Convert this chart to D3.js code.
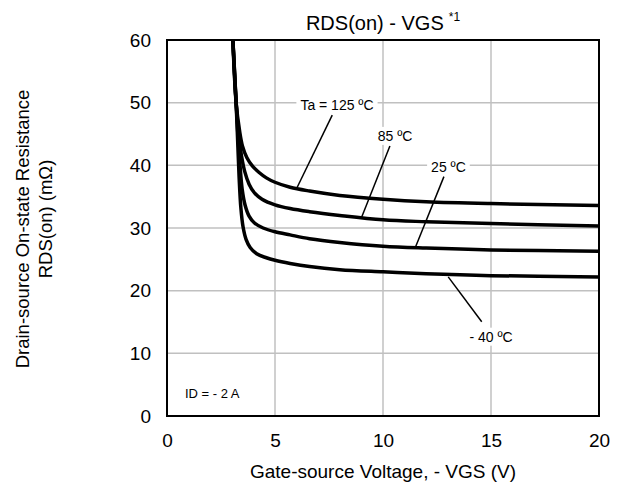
<!DOCTYPE html>
<html>
<head>
<meta charset="utf-8">
<script src="https://cdn.jsdelivr.net/npm/d3@7"></script>
<style>
  body { margin: 0; background: #fff; }
  text { font-family: "Liberation Sans", Arial, sans-serif; fill: #000; }
</style>
</head>
<body>
<svg id="chart"></svg>
<script>
// chart size
var width = 627;
var height = 486;
var margin = {top: 40, right: 28, bottom: 70, left: 167};

// tick values
var xTicks = [0, 5, 10, 15, 20];
var yTicks = [0, 10, 20, 30, 40, 50, 60];

// RDS(on) vs VGS curves, [VGS, mOhm]
var curve125 = [[3.05, 60], [3.2, 50], [3.36, 45.5], [3.5, 43.0], [3.7, 41.2], [3.95, 39.9], [4.25, 38.9], [4.6, 38.0], [5, 37.3], [5.7, 36.5], [6.6, 35.9], [8, 35.2], [10, 34.6], [12, 34.2], [15, 33.9], [20, 33.6]];
var curve85 = [[3.05, 60], [3.2, 50], [3.33, 44.5], [3.45, 41.5], [3.6, 39.0], [3.8, 37.0], [4.05, 35.6], [4.4, 34.6], [5, 33.7], [5.7, 33.1], [6.6, 32.6], [8, 32.0], [10, 31.3], [12, 31.0], [15, 30.7], [20, 30.3]];
var curve25 = [[3.05, 60], [3.2, 50], [3.29, 44.5], [3.38, 40], [3.48, 36.2], [3.62, 33.6], [3.8, 31.9], [4.05, 30.8], [4.45, 30.0], [5, 29.4], [5.7, 28.9], [6.6, 28.3], [8, 27.7], [10, 27.1], [12, 26.8], [15, 26.5], [20, 26.3]];
var curveM40 = [[3.05, 60], [3.2, 50], [3.27, 44], [3.34, 38], [3.42, 33.2], [3.52, 30.2], [3.66, 28.2], [3.85, 26.9], [4.15, 25.9], [4.6, 25.25], [5, 24.85], [5.7, 24.35], [6.6, 23.85], [8, 23.35], [10, 23.0], [12, 22.7], [15, 22.4], [20, 22.2]];

// temperature labels and their leader lines (data units)
var tempLabels = ["Ta = 125 ºC", "85 ºC", "25 ºC", "- 40 ºC"];
var labelAt = [[7.87, 48.8], [10.56, 43.9], [13.03, 38.98], [15.0, 11.86]];
var leaderFrom = [[7.65, 48.0], [10.32, 43.1], [12.82, 38.2], [13.02, 22.2]];
var leaderTo = [[6.0, 36.3], [9.01, 31.7], [11.51, 27.0], [14.57, 15.05]];

var svg = d3.select("#chart")
    .attr("width", width)
    .attr("height", height);

var x = d3.scaleLinear()
    .domain([0, 20])
    .range([margin.left, width - margin.right]);

var y = d3.scaleLinear()
    .domain([0, 60])
    .range([height - margin.bottom, margin.top]);

// grid
svg.append("g")
    .selectAll("line")
    .data(xTicks.slice(1, -1))
    .join("line")
    .attr("x1", d => x(d)).attr("x2", d => x(d))
    .attr("y1", y(0)).attr("y2", y(60))
    .attr("stroke", "#c0c0c0")
    .attr("stroke-width", 1.5);

svg.append("g")
    .selectAll("line")
    .data(yTicks.slice(1, -1))
    .join("line")
    .attr("x1", x(0)).attr("x2", x(20))
    .attr("y1", d => y(d)).attr("y2", d => y(d))
    .attr("stroke", "#c0c0c0")
    .attr("stroke-width", 1.5);

// axes (labels only)
var xAxis = svg.append("g")
    .attr("transform", `translate(0,${y(0)})`)
    .call(d3.axisBottom(x).tickValues(xTicks).tickSize(0).tickPadding(18));
var yAxis = svg.append("g")
    .attr("transform", `translate(${x(0)},0)`)
    .call(d3.axisLeft(y).tickValues(yTicks).tickSize(0).tickPadding(16));
[xAxis, yAxis].forEach(g => {
    g.select(".domain").remove();
    g.selectAll("text")
        .attr("fill", "#000")
        .style("font-size", "19px")
        .style("font-family", '"Liberation Sans", Arial, sans-serif');
});

// clip curves to the plot box
svg.append("clipPath")
    .attr("id", "plot-clip")
    .append("rect")
    .attr("x", x(0)).attr("y", y(60))
    .attr("width", x(20) - x(0))
    .attr("height", y(0) - y(60));

var line = d3.line()
    .x(d => x(d[0]))
    .y(d => y(d[1]))
    .curve(d3.curveCatmullRom.alpha(0.5));

svg.append("g")
    .attr("clip-path", "url(#plot-clip)")
    .selectAll("path")
    .data([curve125, curve85, curve25, curveM40])
    .join("path")
    .attr("fill", "none")
    .attr("stroke", "#000")
    .attr("stroke-width", 3.5)
    .attr("d", line);

// leader lines
svg.append("g")
    .selectAll("line")
    .data(tempLabels.map((t, i) => i))
    .join("line")
    .attr("x1", i => x(leaderFrom[i][0])).attr("y1", i => y(leaderFrom[i][1]))
    .attr("x2", i => x(leaderTo[i][0])).attr("y2", i => y(leaderTo[i][1]))
    .attr("stroke", "#000")
    .attr("stroke-width", 1.5);

// labels with white boxes behind
var lab = svg.append("g")
    .selectAll("g")
    .data(tempLabels)
    .join("g");
lab.append("rect").attr("fill", "#fff");
lab.append("text")
    .attr("x", (d, i) => x(labelAt[i][0]))
    .attr("y", (d, i) => y(labelAt[i][1]))
    .attr("text-anchor", "middle")
    .style("font-size", "14px")
    .text(d => d);
lab.each(function() {
    var b = d3.select(this).select("text").node().getBBox();
    d3.select(this).select("rect")
        .attr("x", b.x - 4).attr("y", b.y - 1)
        .attr("width", b.width + 8).attr("height", b.height + 2);
});

svg.append("text")
    .attr("x", x(0.83))
    .attr("y", y(2.87))
    .style("font-size", "13px")
    .text("ID = - 2 A");

// plot border
svg.append("rect")
    .attr("x", x(0)).attr("y", y(60))
    .attr("width", x(20) - x(0))
    .attr("height", y(0) - y(60))
    .attr("fill", "none")
    .attr("stroke", "#000")
    .attr("stroke-width", 2);

// title
var title = svg.append("text")
    .attr("x", (x(0) + x(20)) / 2)
    .attr("y", 30)
    .attr("text-anchor", "middle")
    .style("font-size", "20px");
title.append("tspan").text("RDS(on) - VGS");
title.append("tspan")
    .attr("dx", 5).attr("dy", -9)
    .style("font-size", "12px")
    .text("*1");

// axis titles
svg.append("text")
    .attr("x", (x(0) + x(20)) / 2)
    .attr("y", 478)
    .attr("text-anchor", "middle")
    .style("font-size", "19px")
    .text("Gate-source Voltage, - VGS (V)");

svg.append("text")
    .attr("transform", "translate(29,229) rotate(-90)")
    .attr("text-anchor", "middle")
    .style("font-size", "18.5px")
    .text("Drain-source On-state Resistance");

svg.append("text")
    .attr("transform", "translate(52,219) rotate(-90)")
    .attr("text-anchor", "middle")
    .style("font-size", "18.5px")
    .text("RDS(on) (mΩ)");
</script>
</body>
</html>
